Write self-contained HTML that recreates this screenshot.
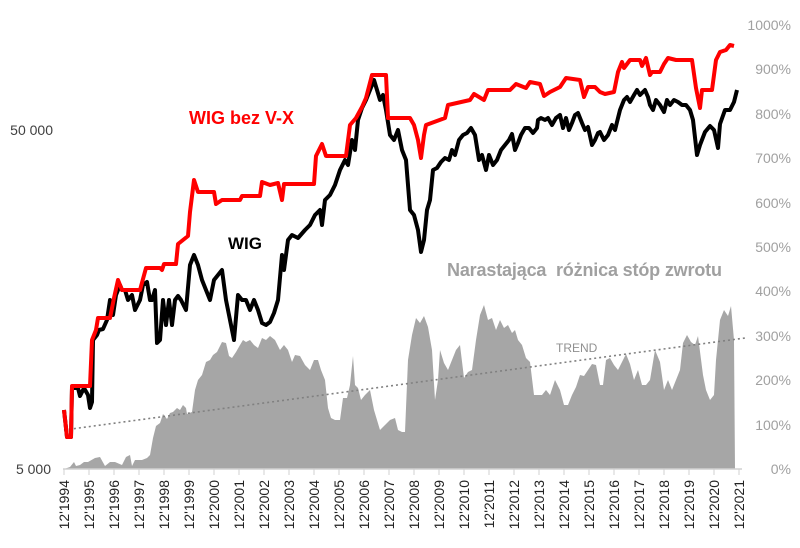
<!DOCTYPE html>
<html><head><meta charset="utf-8"><style>
html,body{margin:0;padding:0;background:#fff;}
svg{display:block;font-family:"Liberation Sans",sans-serif;}
</style></head><body>
<svg width="800" height="548" viewBox="0 0 800 548" xmlns="http://www.w3.org/2000/svg">
<polygon fill="#a6a6a6" points="64,469 70,467 74,462 76,466 80,465 84,462 88,462 95,458 100,457 105,466 110,462 115,462 122,465 126,457 130,455 132,466 135,460 142,460 147,458 150,455 153,438 156,426 160,423 163,414 167,419 170,413 173,412 177,408 180,410 183,405 186,408 187,414 192,412 195,390 198,380 202,375 206,362 210,360 213,355 217,352 222,342 226,343 229,356 232,358 236,352 240,345 243,340 246,342 250,340 254,345 258,348 262,338 266,340 270,336 275,340 280,350 284,345 288,350 292,362 295,355 300,356 305,365 310,370 314,360 318,360 321,370 325,380 328,408 331,418 335,420 340,420 343,398 347,398 350,385 353,356 355,385 358,388 361,400 365,395 370,390 374,410 377,420 380,430 385,425 390,420 395,418 398,430 402,432 405,432 408,360 412,335 416,318 420,323 424,316 428,327 432,350 435,400 438,380 440,350 444,363 448,370 452,360 456,350 460,345 464,378 468,372 472,370 476,340 480,315 484,305 488,320 492,318 496,330 500,320 504,328 508,325 512,333 515,330 518,340 522,345 526,358 530,362 534,395 538,395 542,395 546,390 550,395 555,380 560,390 564,405 568,405 572,395 576,387 580,375 584,376 588,370 592,364 596,365 600,385 603,385 606,360 610,358 614,365 618,370 622,362 626,354 630,364 634,380 638,370 642,385 646,385 650,380 655,350 660,362 664,390 668,380 672,390 676,380 680,370 683,343 687,335 691,342 695,345 698,336 703,375 706,390 710,400 714,395 716,360 720,320 724,310 728,316 731,306 734,340 735,469"/>
<line x1="64" y1="430" x2="745" y2="338" stroke="#808080" stroke-width="1.6" stroke-dasharray="2,3"/>
<line x1="63" y1="469" x2="742" y2="469" stroke="#d0d0d0" stroke-width="1.5"/>
<g stroke="#d0d0d0" stroke-width="1">
<line x1="64" y1="469" x2="64" y2="475"/><line x1="89" y1="469" x2="89" y2="475"/><line x1="114" y1="469" x2="114" y2="475"/><line x1="139" y1="469" x2="139" y2="475"/><line x1="164" y1="469" x2="164" y2="475"/><line x1="189" y1="469" x2="189" y2="475"/><line x1="214" y1="469" x2="214" y2="475"/><line x1="239" y1="469" x2="239" y2="475"/><line x1="264" y1="469" x2="264" y2="475"/><line x1="289" y1="469" x2="289" y2="475"/><line x1="314" y1="469" x2="314" y2="475"/><line x1="339" y1="469" x2="339" y2="475"/><line x1="364" y1="469" x2="364" y2="475"/><line x1="389" y1="469" x2="389" y2="475"/><line x1="414" y1="469" x2="414" y2="475"/><line x1="439" y1="469" x2="439" y2="475"/><line x1="464" y1="469" x2="464" y2="475"/><line x1="489" y1="469" x2="489" y2="475"/><line x1="514" y1="469" x2="514" y2="475"/><line x1="539" y1="469" x2="539" y2="475"/><line x1="564" y1="469" x2="564" y2="475"/><line x1="589" y1="469" x2="589" y2="475"/><line x1="614" y1="469" x2="614" y2="475"/><line x1="639" y1="469" x2="639" y2="475"/><line x1="664" y1="469" x2="664" y2="475"/><line x1="689" y1="469" x2="689" y2="475"/><line x1="714" y1="469" x2="714" y2="475"/><line x1="739" y1="469" x2="739" y2="475"/>
</g>
<polyline fill="none" stroke="#000" stroke-width="4" stroke-linejoin="round" points="64,410 67,437 71,437 72,388 78,388 80,396 84,388 88,395 90,408 92,402 93,340 97,335 99,330 103,329 107,320 110,300 113,315 116,295 120,285 122,290 125,290 128,300 132,295 135,310 140,300 143,285 147,282 150,300 152,300 155,290 157,343 160,340 163,300 166,325 169,300 172,325 175,300 178,296 181,300 186,310 190,265 194,255 198,265 202,280 206,290 210,300 214,280 218,275 222,270 226,300 230,320 234,340 238,295 242,300 246,300 250,310 254,300 258,310 262,323 266,325 270,322 274,313 278,300 282,255 284,270 288,240 292,235 298,238 305,230 310,225 315,215 320,210 322,225 325,200 330,195 335,185 340,170 345,160 348,165 352,140 355,150 358,120 362,108 366,100 370,90 374,80 377,90 380,100 383,95 386,110 390,135 394,140 398,130 402,150 406,160 410,210 414,215 418,230 421,252 424,240 427,210 430,200 433,170 437,168 441,162 445,158 449,160 452,150 455,155 459,140 463,135 467,133 471,128 475,135 479,160 482,155 486,170 489,155 493,165 497,160 501,150 505,145 509,140 512,134 515,150 518,143 521,135 525,128 529,128 533,133 537,128 538,120 541,118 545,120 548,118 552,125 556,118 560,115 563,128 566,118 569,130 572,123 575,115 578,113 582,123 585,130 588,127 592,145 595,140 598,133 600,132 604,140 608,135 612,125 615,130 620,110 624,100 627,97 630,102 634,95 637,90 640,95 643,92 645,90 648,97 650,105 653,110 656,100 660,105 664,112 667,100 670,105 674,100 678,102 682,105 686,105 690,110 693,120 697,155 700,145 705,132 710,126 714,130 718,148 720,124 725,110 730,110 734,102 737,90"/>
<polyline fill="none" stroke="#ff0000" stroke-width="4" stroke-linejoin="round" points="64,410 67,437 71,437 72,386 90,386 92,340 96,330 98,318 110,318 114,298 118,280 122,290 140,290 146,268 160,268 162,270 164,264 176,264 178,244 188,236 190,212 194,180 198,192 214,192 216,204 222,200 240,200 242,196 260,196 262,182 270,185 278,183 282,200 284,184 314,184 316,156 322,144 326,156 346,156 350,125 356,118 362,107 366,98 372,75 386,75 388,118 410,118 414,125 418,140 421,158 424,135 426,125 445,118 448,105 470,100 474,94 484,100 488,90 510,90 516,84 526,88 530,82 540,84 544,96 550,92 560,87 566,78 580,80 584,97 588,87 595,87 600,92 605,94 614,92 618,72 622,62 624,68 630,60 640,60 642,66 646,58 650,75 652,72 660,72 664,64 668,58 676,60 692,60 696,88 700,108 702,90 712,90 716,60 720,52 726,50 730,45 734,46"/>
<g font-size="14" fill="#404040" text-anchor="end">
<text x="53" y="135">50 000</text><text x="51" y="474">5 000</text>
</g>
<g font-size="14" fill="#a0a0a0" text-anchor="end">
<text x="791" y="474">0%</text><text x="791" y="430">100%</text><text x="791" y="385">200%</text><text x="791" y="341">300%</text><text x="791" y="296">400%</text><text x="791" y="252">500%</text><text x="791" y="208">600%</text><text x="791" y="163">700%</text><text x="791" y="119">800%</text><text x="791" y="74">900%</text><text x="791" y="30">1000%</text>
</g>
<g font-size="14" fill="#222" text-anchor="end">
<text transform="translate(69,480) rotate(-90)">12'1994</text><text transform="translate(94,480) rotate(-90)">12'1995</text><text transform="translate(119,480) rotate(-90)">12'1996</text><text transform="translate(144,480) rotate(-90)">12'1997</text><text transform="translate(169,480) rotate(-90)">12'1998</text><text transform="translate(194,480) rotate(-90)">12'1999</text><text transform="translate(219,480) rotate(-90)">12'2000</text><text transform="translate(244,480) rotate(-90)">12'2001</text><text transform="translate(269,480) rotate(-90)">12'2002</text><text transform="translate(294,480) rotate(-90)">12'2003</text><text transform="translate(319,480) rotate(-90)">12'2004</text><text transform="translate(344,480) rotate(-90)">12'2005</text><text transform="translate(369,480) rotate(-90)">12'2006</text><text transform="translate(394,480) rotate(-90)">12'2007</text><text transform="translate(419,480) rotate(-90)">12'2008</text><text transform="translate(444,480) rotate(-90)">12'2009</text><text transform="translate(469,480) rotate(-90)">12'2010</text><text transform="translate(494,480) rotate(-90)">12'2011</text><text transform="translate(519,480) rotate(-90)">12'2012</text><text transform="translate(544,480) rotate(-90)">12'2013</text><text transform="translate(569,480) rotate(-90)">12'2014</text><text transform="translate(594,480) rotate(-90)">12'2015</text><text transform="translate(619,480) rotate(-90)">12'2016</text><text transform="translate(644,480) rotate(-90)">12'2017</text><text transform="translate(669,480) rotate(-90)">12'2018</text><text transform="translate(694,480) rotate(-90)">12'2019</text><text transform="translate(719,480) rotate(-90)">12'2020</text><text transform="translate(744,480) rotate(-90)">12'2021</text>
</g>
<text x="189" y="124" font-size="18" font-weight="bold" fill="#ff0000">WIG bez V-X</text>
<text x="228" y="249" font-size="17" font-weight="bold" fill="#000">WIG</text>
<text x="447" y="276" font-size="18" font-weight="bold" fill="#a0a0a0" textLength="275" xml:space="preserve">Narastająca  różnica stóp zwrotu</text>
<text x="556" y="352" font-size="12" fill="#909090">TREND</text>
</svg>
</body></html>
